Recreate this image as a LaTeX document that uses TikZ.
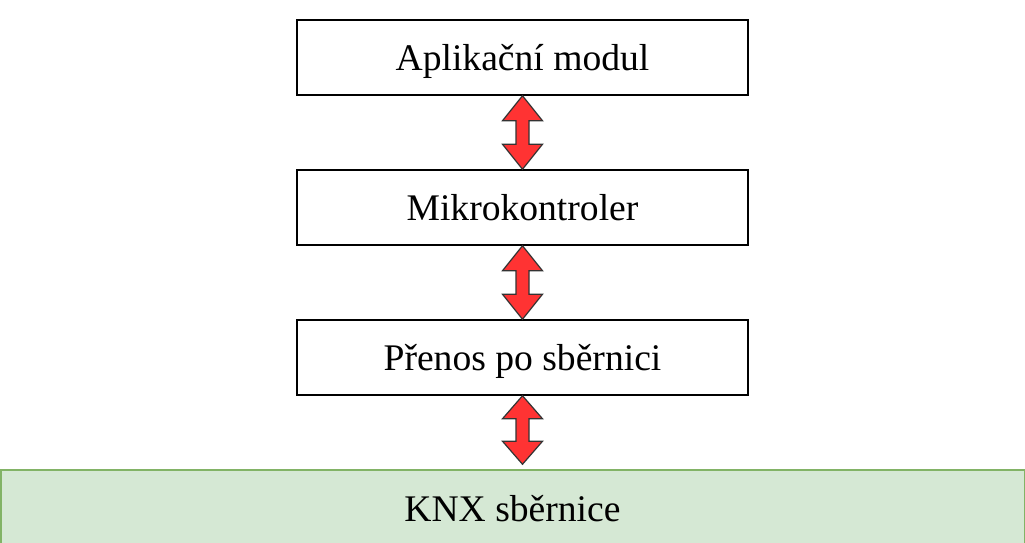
\documentclass[tikz,border=0pt]{standalone}
\usepackage{fontspec}
\setmainfont{Liberation Serif}
\usetikzlibrary{calc}
\definecolor{arrowred}{HTML}{FF3333}
\definecolor{arrowline}{HTML}{333333}
\definecolor{busfill}{HTML}{D5E8D4}
\definecolor{busline}{HTML}{82B366}
\tikzset{
  boxtext/.style={font=\fontsize{37.6}{44}\selectfont, text height=30pt, text depth=4pt, inner sep=0pt},
  layerbox/.style={boxtext, draw=black, line width=1.5pt, fill=white, minimum width=451pt, minimum height=75pt},
  busbox/.style={boxtext, draw=busline, line width=1.5pt, fill=busfill, minimum width=1023.5pt, minimum height=76pt},
  blockarrow/.style={draw=arrowline, fill=arrowred, line width=1.2pt, line join=miter}
}
\newcommand{\dblarrow}[3]{%
  \draw[blockarrow] #1 -- ++(20,-#3) -- ++(-13.5,0) -- ($#2+(6.5,#3)$) -- ++(13.5,0) -- #2 -- ++(-20,#3) -- ++(13.5,0) -- ($#1+(-6.5,-#3)$) -- ++(-13.5,0) -- cycle;}
\begin{document}
\begin{tikzpicture}[x=1pt,y=1pt]
\useasboundingbox (0,0) rectangle (1025,-543);
\clip (0,0) rectangle (1025,-543);
\node[layerbox] (app) at (522.5,-57.5) {Aplikační modul};
\node[layerbox] (mcu) at (522.5,-207.5) {Mikrokontroler};
\node[layerbox] (tx) at (522.5,-357.5) {Přenos po sběrnici};
\node[busbox] (knx) at (512.5,-508) {KNX sběrnice};
\coordinate (knxin) at ($(tx.south |- knx.north)+(0,5)$);
\dblarrow{(app.south)}{(mcu.north)}{25}
\dblarrow{(mcu.south)}{(tx.north)}{25}
\dblarrow{(tx.south)}{(knxin)}{23}
\end{tikzpicture}
\end{document}
